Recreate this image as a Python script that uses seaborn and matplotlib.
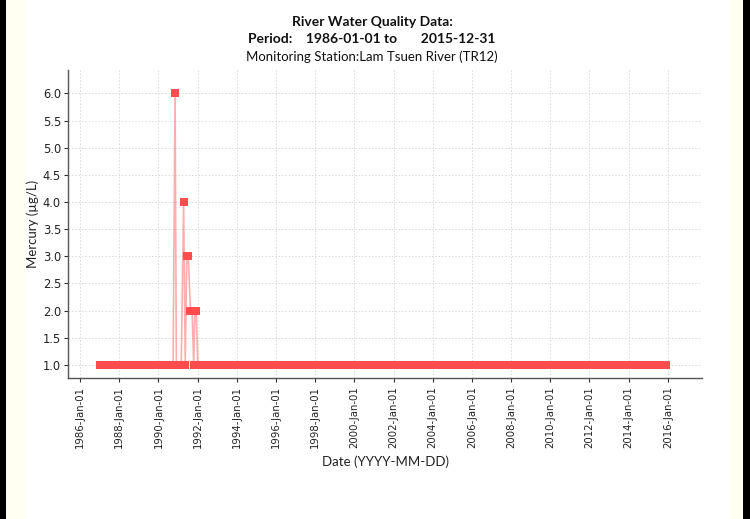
"""
Lam Tsuen River (TR12) mercury readings, 1986-2015, drawn with seaborn.
"""

import matplotlib

matplotlib.use("Agg")

import matplotlib.dates as mdates
import matplotlib.pyplot as plt
import pandas as pd
import seaborn as sns
from matplotlib.patches import Rectangle

# -----------------------------------------------------------------------------
# Data
# -----------------------------------------------------------------------------
# Runs of monthly samples that all sit at the 1.0 ug/L level
BASELINE_VALUE = 1.0
BASELINE_RUNS = [
    ("1987-01-01", "1990-10-01"),
    ("1990-12-01", "1991-03-01"),
    ("1992-02-01", "2015-12-01"),
]

# Individual readings around the 1990-1991 excursion
SPIKE_DATES = [
    "1990-11-06", "1991-04-15", "1991-05-15", "1991-06-12", "1991-07-10",
    "1991-08-20", "1991-09-20", "1991-10-20", "1991-11-10", "1991-12-05",
    "1992-01-05",
]
SPIKE_VALUES = [6.0, 4.0, 1.0, 3.0, 3.0, 2.0, 2.0, 1.0, 2.0, 2.0, 1.0]

Y_TICKS = [1.0, 1.5, 2.0, 2.5, 3.0, 3.5, 4.0, 4.5, 5.0, 5.5, 6.0]
TICK_YEARS = list(range(1986, 2017, 2))

TITLE_LINES = [
    ("River Water Quality Data:", "bold", 10),
    ("Period:    1986-01-01 to       2015-12-31", "bold", 10),
    ("Monitoring Station:Lam Tsuen River (TR12)", "normal", 9.5),
]
Y_LABEL = "Mercury (\u00b5g/L)"
X_LABEL = "Date (YYYY-MM-DD)"

RED = "#ff4c4c"


def build_frame() -> pd.DataFrame:
    parts = []
    for start, end in BASELINE_RUNS:
        dates = pd.date_range(start, end, freq="MS")
        parts.append(pd.DataFrame({"date": dates, "value": BASELINE_VALUE}))
    parts.append(pd.DataFrame({"date": pd.to_datetime(SPIKE_DATES), "value": SPIKE_VALUES}))
    return pd.concat(parts).sort_values("date").reset_index(drop=True)


def main() -> None:
    df = build_frame()

    sns.set_theme(style="white")
    plt.rcParams["font.family"] = ["DejaVu Sans"]

    fig = plt.figure(figsize=(7.5, 5.19), dpi=100)
    fig.patch.set_facecolor("white")

    # side frame: cream strips and black edges, drawn in figure pixels
    frame = [(0, 25, "#fffff2"), (730, 20, "#fffff2"), (0, 6, "#000000"), (743, 7, "#000000")]
    for i, (x0, w, c) in enumerate(frame):
        fig.add_artist(Rectangle((x0, 0), w, 519, transform=None, facecolor=c,
                                 edgecolor=c, linewidth=0, zorder=i))

    ax = fig.add_axes([68 / 750, 1 - 378 / 519, (702 - 68) / 750, (378 - 70) / 519])
    ax.set_facecolor("white")
    ax.set_zorder(10)

    sns.lineplot(data=df, x="date", y="value", ax=ax, color=RED, alpha=0.45,
                 linewidth=1.2, sort=False, zorder=2)
    sns.scatterplot(data=df, x="date", y="value", ax=ax, color=RED, marker="s",
                    s=28, linewidth=0, zorder=3)

    ax.set_xlim(pd.Timestamp("1985-05-20"), pd.Timestamp("2017-09-30"))
    ax.set_ylim(0.76, 6.43)
    ax.set_yticks(Y_TICKS)
    ax.yaxis.set_major_formatter(matplotlib.ticker.FormatStrFormatter("%.1f"))
    ax.set_xticks([pd.Timestamp(f"{y}-01-01") for y in TICK_YEARS])
    ax.xaxis.set_major_formatter(mdates.DateFormatter("%Y-%b-%d"))
    ax.tick_params(axis="x", labelrotation=90, labelsize=7.3, length=3, width=0.8,
                   direction="out", bottom=True, colors="#333333", labelcolor="#222222", pad=3)
    ax.tick_params(axis="y", labelsize=8.3, length=3, width=0.8, direction="out",
                   left=True, colors="#333333", labelcolor="#222222", pad=2)

    ax.grid(True, color="#d8d8d8", linestyle=(0, (2, 2)), linewidth=0.6)
    ax.set_axisbelow(True)
    for side in ("top", "right"):
        ax.spines[side].set_visible(False)
    for side in ("left", "bottom"):
        ax.spines[side].set_color("#555555")
        ax.spines[side].set_linewidth(1.0)

    ax.set_ylabel(Y_LABEL, family="Lato", fontsize=9.5, color="#222222", labelpad=3)
    ax.set_xlabel(X_LABEL, family="Lato", fontsize=9.5, color="#222222", labelpad=5)

    for (text, weight, size), y in zip(TITLE_LINES, [22, 39, 57]):
        fig.text(372 / 750, 1 - y / 519, text, ha="center", va="center",
                 family="Lato", fontsize=size, fontweight=weight, color="#111111")

    fig.savefig("out.png", dpi=100, facecolor="white")
    plt.close(fig)


if __name__ == "__main__":
    main()
